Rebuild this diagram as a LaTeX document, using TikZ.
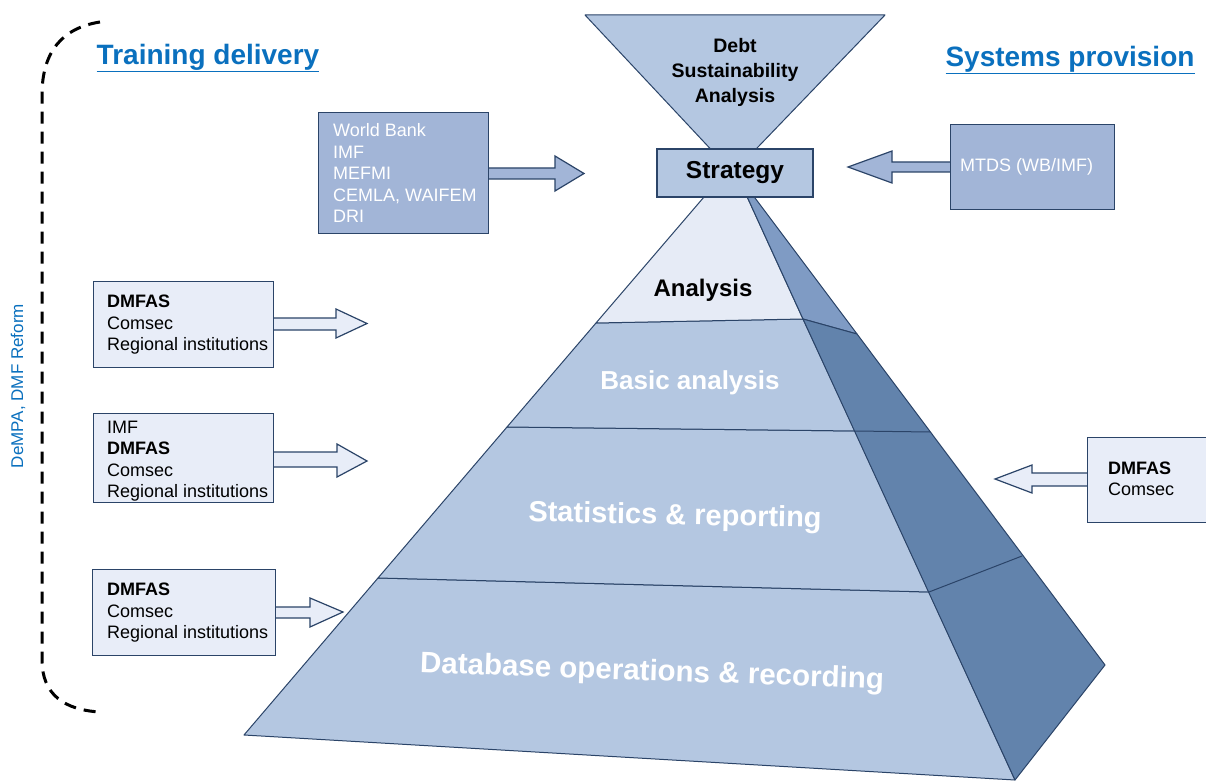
\documentclass[tikz,border=0pt]{standalone}
\usepackage{fontspec}
\setmainfont{Liberation Sans}
\definecolor{edge}{HTML}{2B4468}
\definecolor{front}{HTML}{B4C7E1}
\definecolor{toplayer}{HTML}{E6EBF6}
\definecolor{sideup}{HTML}{7F9BC4}
\definecolor{sidelow}{HTML}{6283AC}
\definecolor{midbox}{HTML}{A2B5D7}
\definecolor{lightbox}{HTML}{E8EDF8}
\definecolor{hdr}{HTML}{0A70BE}
\begin{document}
\begin{tikzpicture}[x=1pt,y=-1pt,
  face/.style={draw=edge, line width=1, line join=round},
  lbox/.style={draw=edge, line width=1.2, fill=lightbox, inner sep=0, anchor=north west},
  mbox/.style={draw=edge, line width=1.2, fill=midbox, inner sep=0, anchor=north west},
  larrow/.style={draw=edge, line width=1.2, fill=lightbox, line join=miter},
  marrow/.style={draw=edge, line width=1.2, fill=midbox, line join=miter},
  boxtext/.style={anchor=west, align=left, inner sep=0, font=\fontsize{18}{21.5}\selectfont},
  hdrtext/.style={text=hdr, inner sep=0, font=\bfseries\fontsize{28}{32}\selectfont},
  laytext/.style={text=white, inner sep=0, font=\bfseries}]
\useasboundingbox (0,0) rectangle (1206,783);
\fill[white] (0,0) rectangle (1206,783);

% dashed bracket
\draw[line width=3, dash pattern=on 12pt off 8pt, line cap=butt] (100,22) .. controls (62,28) and (42,52) .. (42,95) -- (42,660) .. controls (42,695) and (65,710) .. (100,712);
\node[text=hdr, rotate=90, inner sep=0, font=\fontsize{17}{20}\selectfont] (side) at (18,386) {DeMPA, DMF Reform};

% headers
\node[hdrtext] (hl) at (208,58) {\underline{Training delivery}};
\node[hdrtext] (hr) at (1070,60) {\underline{Systems provision}};

% funnel
\path[face, fill=front] (585,15) -- (885,15) -- (733,173) -- cycle;
\node[inner sep=0, align=center, font=\bfseries\fontsize{19.5}{25}\selectfont] (dsa) at (735,72) {Debt\\Sustainability\\Analysis};

% pyramid front layers
\path[face, fill=front] (244,735) -- (1015,780) -- (929,592) -- (378,578) -- cycle;
\path[face, fill=front] (378,578) -- (929,592) -- (855,431) -- (507,427) -- cycle;
\path[face, fill=front] (507,427) -- (855,431) -- (803,319) -- (596,323) -- cycle;
\path[face, fill=toplayer] (596,323) -- (803,319) -- (744,190) -- (710,190) -- cycle;
% right face
\path[face, fill=sideup] (744,190) -- (749,190) -- (857,334) -- (803,319) -- cycle;
\path[face, fill=sidelow] (803,319) -- (857,334) -- (1105,665) -- (1015,780) -- cycle;
\draw[face] (855,431) -- (930,432);
\draw[face] (929,592) -- (1022,556);

% layer labels
\node[inner sep=0, font=\bfseries\fontsize{24}{28}\selectfont] (l1) at (703,290) {Analysis};
\node[laytext, font=\bfseries\fontsize{26}{30}\selectfont] (l2) at (690,383) {Basic analysis};
\node[laytext, rotate=-1.2, font=\bfseries\fontsize{29}{33}\selectfont] (l3) at (675,517) {Statistics \& reporting};
\node[laytext, rotate=-2, font=\bfseries\fontsize{29.5}{33}\selectfont] (l4) at (652,673) {Database operations \& recording};

% strategy
\node[draw=edge, line width=1.5, fill=front, minimum width=156, minimum height=48, inner sep=0, font=\bfseries\fontsize{24.5}{28}\selectfont] (strat) at (735,173) {Strategy};

% top-left mid box and arrow
\draw[marrow] (488,168) -- (555,168) -- (555,156) -- (584,173.5) -- (555,191) -- (555,179) -- (488,179);
\node[mbox, minimum width=170, minimum height=121] (wb) at (318,112) {};
\node[boxtext, text=white] (wbt) at ([xshift=15]wb.west) {World Bank\\IMF\\MEFMI\\CEMLA, WAIFEM\\DRI};

% top-right mid box and arrow
\draw[marrow] (950,162) -- (892,162) -- (892,151) -- (848,167) -- (892,183) -- (892,172) -- (950,172);
\node[mbox, minimum width=164, minimum height=85] (mtds) at (950,124) {};
\node[boxtext, text=white] (mtdst) at ([xshift=10]mtds.west) {MTDS (WB/IMF)};

% left light boxes
\draw[larrow] (273,318) -- (336,318) -- (336,309) -- (367,323.5) -- (336,338) -- (336,330) -- (273,330);
\node[lbox, minimum width=180, minimum height=86] (b1) at (93,281) {};
\node[boxtext] (b1t) at ([xshift=14]b1.west) {\textbf{DMFAS}\\Comsec\\Regional institutions};

\draw[larrow] (273,452) -- (337,452) -- (337,444) -- (367,461) -- (337,477) -- (337,467) -- (273,467);
\node[lbox, minimum width=180, minimum height=89] (b2) at (93,413) {};
\node[boxtext] (b2t) at ([xshift=14,yshift=-3]b2.west) {IMF\\\textbf{DMFAS}\\Comsec\\Regional institutions};

\draw[larrow] (275,607) -- (310,607) -- (310,598) -- (343,612) -- (310,627) -- (310,618) -- (275,618);
\node[lbox, minimum width=183, minimum height=86] (b3) at (92,569) {};
\node[boxtext] (b3t) at ([xshift=15]b3.west) {\textbf{DMFAS}\\Comsec\\Regional institutions};

% right light box
\draw[larrow] (1087,473) -- (1032,473) -- (1032,465) -- (995,479) -- (1032,493) -- (1032,486) -- (1087,486);
\node[lbox, minimum width=130, minimum height=85] (b4) at (1087,437) {};
\node[boxtext] (b4t) at (1108,479) {\textbf{DMFAS}\\Comsec};
\end{tikzpicture}
\end{document}
